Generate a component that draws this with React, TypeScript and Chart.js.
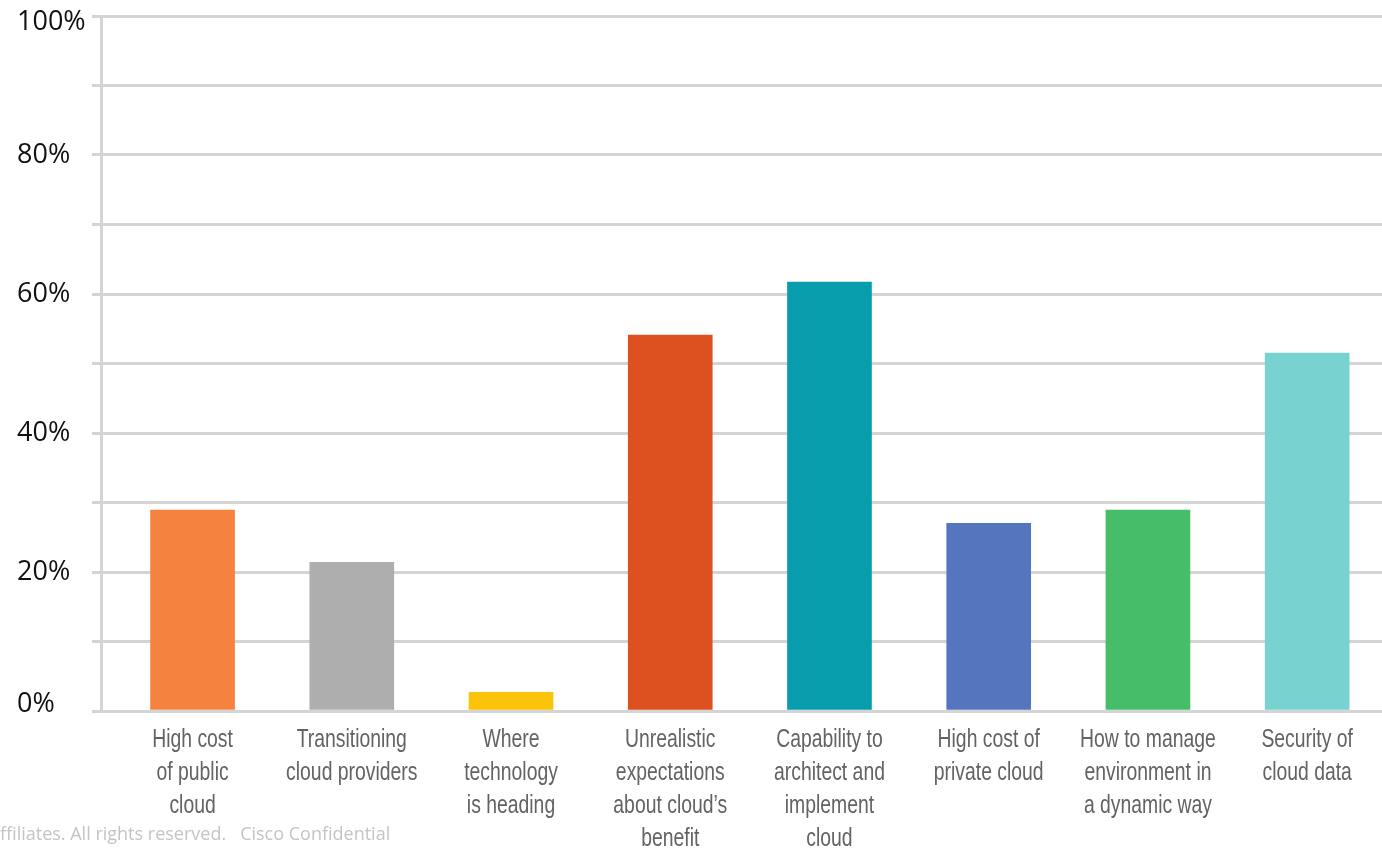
import React, { useEffect, useRef } from "react";
import { Chart, registerables } from "chart.js";

Chart.register(...registerables);

const categories: string[][] = [
  ["High cost", "of public", "cloud"],
  ["Transitioning", "cloud providers"],
  ["Where", "technology", "is heading"],
  ["Unrealistic", "expectations", "about cloud’s", "benefit"],
  ["Capability to", "architect and", "implement", "cloud"],
  ["High cost of", "private cloud"],
  ["How to manage", "environment in", "a dynamic way"],
  ["Security of", "cloud data"],
];

const values: number[] = [28.9, 21.4, 2.7, 54.1, 61.7, 27.0, 28.9, 51.5];

const barColors: string[] = [
  "#F5833F",
  "#AEAEAE",
  "#FBC30A",
  "#DD5020",
  "#079DAD",
  "#5576BE",
  "#46BE69",
  "#78D2D0",
];

const yTickStep = 10;
const yLabelStep = 20;

const footerText = "ffiliates. All rights reserved.   Cisco Confidential";

// Draws the category labels of the x scale in a condensed style,
// and the y tick labels kept inside the plot's vertical range.
const customLabels = {
  id: "customLabels",
  afterDraw(chart: any) {
    const ctx = chart.ctx;
    const xs = chart.scales.x;
    const ys = chart.scales.y;
    const area = chart.chartArea;

    ctx.save();
    ctx.fillStyle = "#636363";
    ctx.font = "26px 'Liberation Sans', Arial, sans-serif";
    ctx.textAlign = "center";
    ctx.textBaseline = "middle";
    const lineHeight = 33;
    categories.forEach((lines, i) => {
      const x = xs.getPixelForValue(i);
      lines.forEach((line, k) => {
        const y = xs.top + 29 + k * lineHeight;
        ctx.save();
        ctx.translate(x, y);
        ctx.scale(0.745, 1);
        ctx.fillText(line, 0, 0);
        ctx.restore();
      });
    });
    ctx.restore();

    ctx.save();
    ctx.fillStyle = "#111111";
    ctx.font = "27px 'Open Sans', sans-serif";
    ctx.textAlign = "left";
    ctx.textBaseline = "middle";
    ys.ticks.forEach((t: any) => {
      if (t.value % yLabelStep !== 0) return;
      let y = ys.getPixelForValue(t.value);
      y = Math.max(area.top + 6, Math.min(area.bottom - 7, y));
      ctx.fillText(`${t.value}%`, ys.left + 17, y);
    });
    ctx.restore();
  },
};

export default function App() {
  const ref = useRef<HTMLCanvasElement | null>(null);

  useEffect(() => {
    if (!ref.current) return;
    const chart = new Chart(ref.current, {
      type: "bar",
      data: {
        datasets: [
          {
            data: values.map((v, i) => ({ x: i, y: v })),
            backgroundColor: barColors,
            borderWidth: 0,
            barThickness: 84,
          },
        ],
      },
      plugins: [customLabels],
      options: {
        animation: false,
        responsive: false,
        maintainAspectRatio: false,
        layout: { padding: { top: 16, left: 0, right: 0, bottom: 0 } },
        plugins: {
          legend: { display: false },
          tooltip: { enabled: false },
        },
        scales: {
          x: {
            type: "linear",
            offset: false,
            min: -0.575,
            max: 7.47,
            grid: { display: false, drawTicks: false },
            border: { display: false },
            afterBuildTicks: (scale: any) => {
              scale.ticks = categories.map((_, i) => ({ value: i }));
            },
            afterFit: (scale: any) => {
              scale.height = 143;
              scale.paddingLeft = 0;
              scale.paddingRight = 0;
            },
            ticks: {
              display: false,
              autoSkip: false,
              maxRotation: 0,
              minRotation: 0,
            },
          },
          y: {
            min: 0,
            max: 100,
            afterFit: (scale: any) => {
              scale.width = 101;
              scale.paddingTop = 0;
              scale.paddingBottom = 0;
            },
            grid: {
              color: "#D4D4D4",
              lineWidth: 3,
              tickLength: 9,
              drawTicks: true,
            },
            border: { display: true, color: "#D4D4D4", width: 3 },
            ticks: {
              display: false,
              stepSize: yTickStep,
            },
          },
        },
      },
    });
    return () => chart.destroy();
  }, []);

  return (
    <div
      style={{
        position: "absolute",
        left: 0,
        top: 0,
        width: 1382,
        height: 854,
        overflow: "hidden",
        background: "#ffffff",
      }}
    >
      <canvas
        ref={ref}
        width={1382}
        height={854}
        style={{ position: "absolute", left: 0, top: 0, width: 1382, height: 854 }}
      />
      <div
        style={{
          position: "absolute",
          left: 0,
          top: 821,
          fontFamily: "'Open Sans', sans-serif",
          fontSize: 18,
          color: "#C4C4C4",
          whiteSpace: "pre",
          lineHeight: "24px",
        }}
      >
        {footerText}
      </div>
    </div>
  );
}
